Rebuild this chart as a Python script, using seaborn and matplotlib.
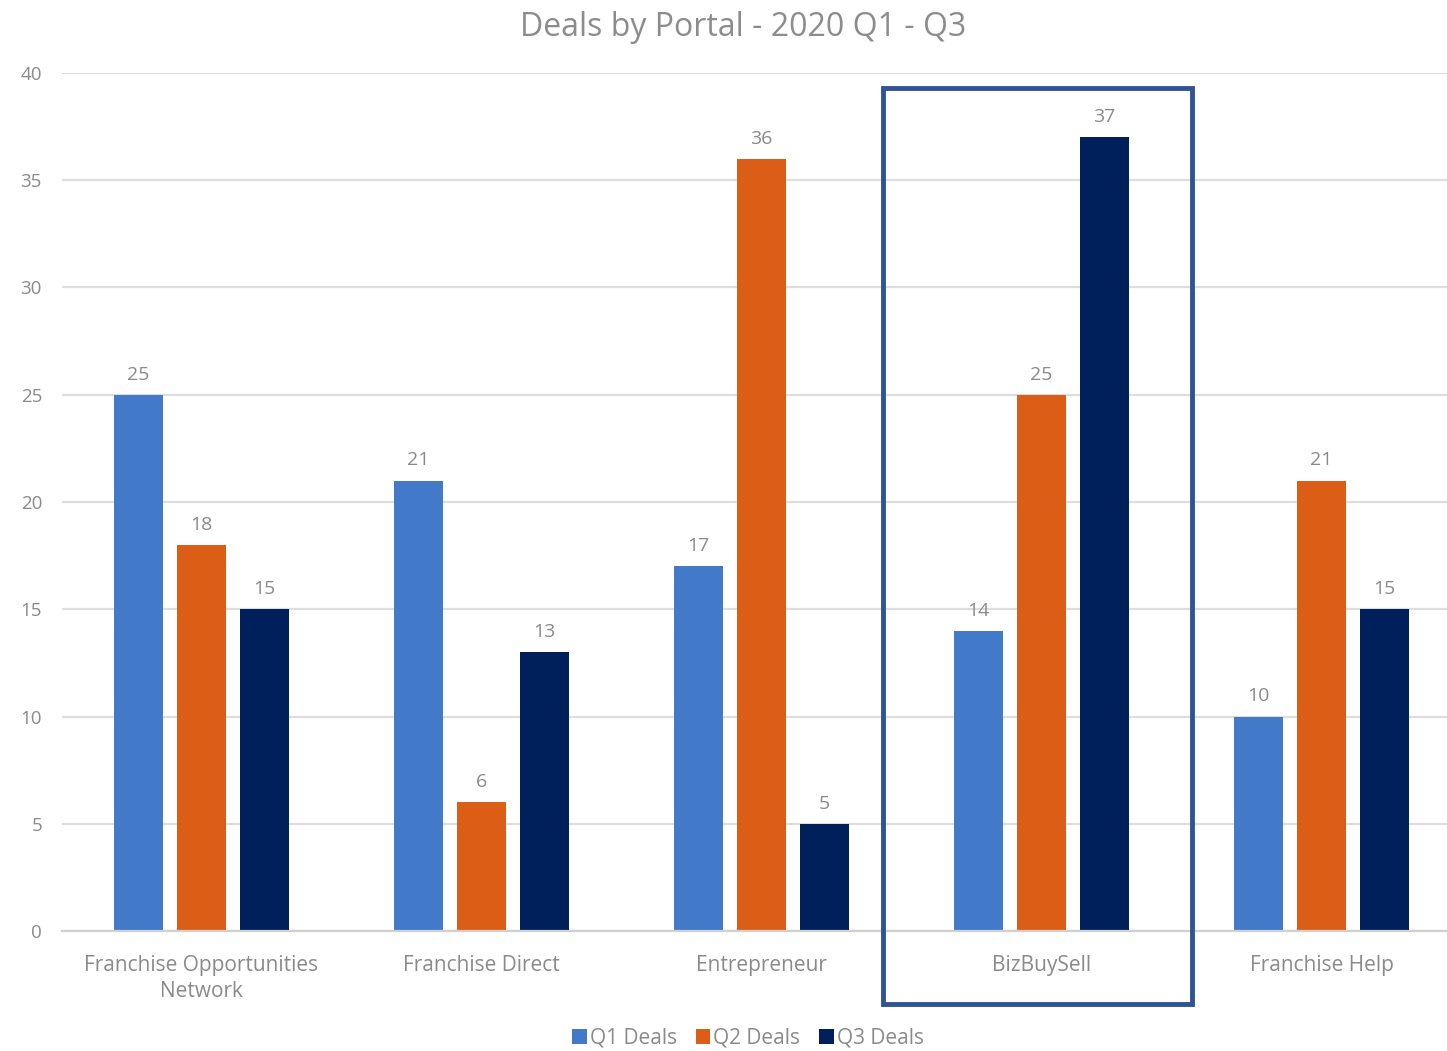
import matplotlib
matplotlib.use("Agg")
import matplotlib.pyplot as plt
import seaborn as sns
import pandas as pd
from matplotlib.patches import Rectangle

portals = ["Franchise Opportunities\nNetwork", "Franchise Direct", "Entrepreneur",
           "BizBuySell", "Franchise Help"]
q1_deals = [25, 21, 17, 14, 10]
q2_deals = [18, 6, 36, 25, 21]
q3_deals = [15, 13, 5, 37, 15]
series_names = ["Q1 Deals", "Q2 Deals", "Q3 Deals"]
colors = ["#4379C9", "#DC5E16", "#00205B"]
y_ticks = [0, 5, 10, 15, 20, 25, 30, 35, 40]

rows = []
for name, vals in zip(series_names, [q1_deals, q2_deals, q3_deals]):
    for p, v in zip(portals, vals):
        rows.append({"Portal": p, "Series": name, "Deals": v})
df = pd.DataFrame(rows)

sns.set_theme(style="white")
plt.rcParams["font.family"] = ["Open Sans", "DejaVu Sans"]

text_color = "#8A8A8A"
fig = plt.figure(figsize=(14.47, 10.51), dpi=100)
ax = fig.add_axes([61.5 / 1447, 120 / 1051, 1400 / 1447, 858 / 1051])

sns.barplot(data=df, x="Portal", y="Deals", hue="Series", order=portals,
            hue_order=series_names, palette=colors, width=0.675, gap=0.22,
            saturation=1, ax=ax, legend=True, edgecolor="none")

ax.set_ylim(0, 40)
ax.set_xlim(-0.5, 4.5)
ax.set_yticks(y_ticks)
ax.yaxis.grid(True, color="#DEDEDE", linewidth=1.6)
ax.set_axisbelow(True)
for s in ["top", "right", "left"]:
    ax.spines[s].set_visible(False)
ax.spines["bottom"].set_color("#D0D0D0")
ax.spines["bottom"].set_linewidth(1.6)
ax.set_xlabel("")
ax.set_ylabel("")
ax.tick_params(axis="y", length=0, pad=14, labelsize=13.5, labelcolor=text_color)
ax.tick_params(axis="x", length=0, pad=17, labelsize=15, labelcolor=text_color)
for lbl in ax.get_yticklabels():
    lbl.set_horizontalalignment("right")
for lbl in ax.get_xticklabels():
    lbl.set_linespacing(1.35)

for cont in ax.containers:
    ax.bar_label(cont, fmt="%d", padding=8, fontsize=14, color=text_color)

fig.suptitle("Deals by Portal - 2020 Q1 - Q3", x=743 / 1447, y=1 - 27 / 1051,
             va="center", fontsize=23, color="#8C8C8C")

leg = ax.legend(loc="center", bbox_to_anchor=(748 / 1447, 1 - 1038 / 1051),
                bbox_transform=fig.transFigure, ncol=3, frameon=False,
                fontsize=15, handlelength=0.7, handleheight=0.7,
                handletextpad=0.15, columnspacing=0.9)
for t in leg.get_texts():
    t.set_color(text_color)

# highlight box around BizBuySell
ax.add_patch(Rectangle((2.434, -3.4), 1.104, 42.7, fill=False,
                       edgecolor="#2F5496", linewidth=3.5, clip_on=False,
                       zorder=5))

fig.savefig("out.png", dpi=100, facecolor="white")
